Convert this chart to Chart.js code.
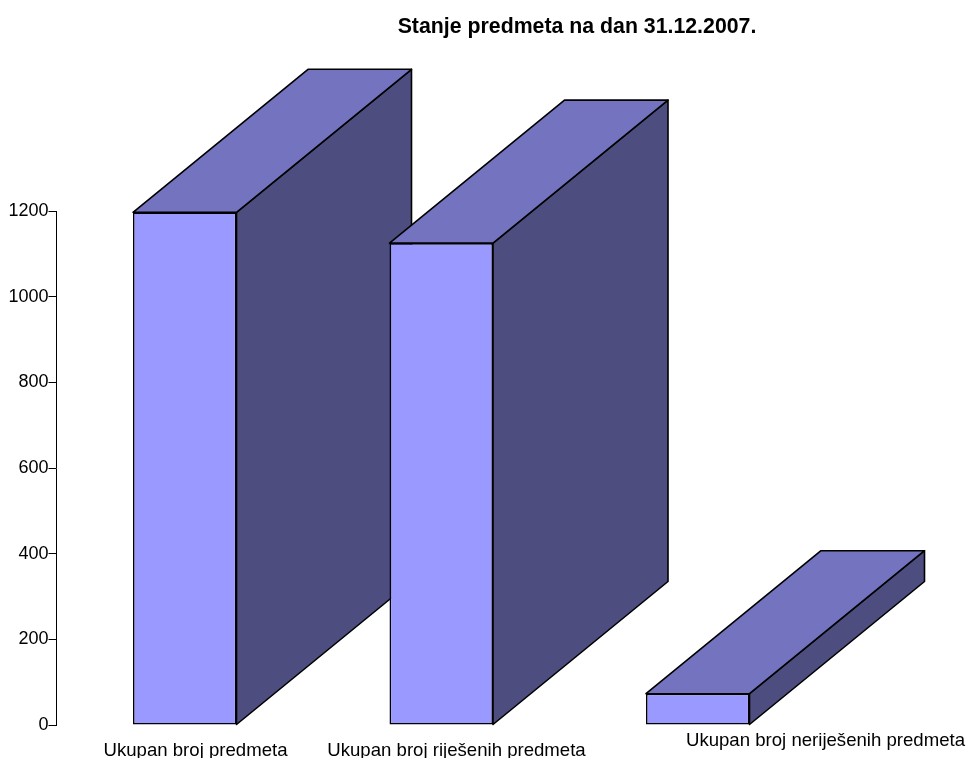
<!DOCTYPE html>
<html>
<head>
<meta charset="utf-8">
<title>Stanje predmeta</title>
<script src="https://cdn.jsdelivr.net/npm/chart.js@4/dist/chart.umd.js"></script>
<style>
  html, body { margin: 0; padding: 0; background: #fff; }
  canvas { display: block; }
</style>
</head>
<body>
<canvas id="chart" width="968" height="758"></canvas>
<script>
const titleText = 'Stanje predmeta na dan 31.12.2007.';
const categories = ['Ukupan broj predmeta', 'Ukupan broj riješenih predmeta', 'Ukupan broj neriješenih predmeta'];
const values = [1197, 1125, 73];
const yTicks = [0, 200, 400, 600, 800, 1000, 1200];

const FONT = '"Liberation Sans", Arial, sans-serif';
const frontColor = '#9999ff';
const topColor = '#7373bf';
const sideColor = '#4d4d80';
// 3d offset of the back face
const depthX = 175;
const depthY = -143;
// label anchors, the source chart places them by hand
const labelCenters = [195.5, 456.5, 825.5];
const labelBaselines = [756, 756, 746];

function face(ctx, pts, fill) {
    ctx.beginPath();
    ctx.moveTo(pts[0][0], pts[0][1]);
    for (let i = 1; i < pts.length; i++) ctx.lineTo(pts[i][0], pts[i][1]);
    ctx.closePath();
    ctx.fillStyle = fill;
    ctx.fill();
    ctx.stroke();
}

const box3d = {
    id: 'box3d',
    beforeDatasetsDraw(chart) {
        const ctx = chart.ctx;
        const bars = chart.getDatasetMeta(0).data;
        ctx.save();
        ctx.strokeStyle = '#000';
        ctx.lineWidth = 1.6;
        ctx.lineJoin = 'round';
        bars.forEach((bar) => {
            const left = bar.x - bar.width / 2;
            const right = bar.x + bar.width / 2;
            const top = bar.y;
            const bottom = bar.base;
            face(ctx, [[right, top], [right + depthX, top + depthY], [right + depthX, bottom + depthY], [right, bottom]], sideColor);
            face(ctx, [[left, top], [left + depthX, top + depthY], [right + depthX, top + depthY], [right, top]], topColor);
        });
        ctx.restore();
    },
    afterDraw(chart) {
        const ctx = chart.ctx;
        ctx.save();
        ctx.fillStyle = '#000';
        ctx.textAlign = 'center';
        ctx.textBaseline = 'alphabetic';
        ctx.font = '18.6px ' + FONT;
        categories.forEach((c, i) => ctx.fillText(c, labelCenters[i], labelBaselines[i]));
        ctx.font = 'bold 21.3px ' + FONT;
        ctx.fillText(titleText, 577, 33);
        ctx.restore();
    }
};

new Chart(document.getElementById('chart').getContext('2d'), {
    type: 'bar',
    data: {
        labels: categories,
        datasets: [{
            data: values,
            backgroundColor: frontColor,
            borderColor: '#000',
            borderWidth: 1.6,
            borderSkipped: false,
            barPercentage: 0.4035,
            categoryPercentage: 1
        }]
    },
    options: {
        responsive: false,
        animation: false,
        devicePixelRatio: 1,
        layout: { padding: { left: 0, top: 211, right: 142, bottom: 33 } },
        plugins: { legend: { display: false }, tooltip: { enabled: false } },
        scales: {
            x: { display: false },
            y: {
                min: 0,
                max: 1200,
                afterFit(scale) { scale.width = 56.5; },
                afterBuildTicks(scale) { scale.ticks = yTicks.map((v) => ({ value: v })); },
                border: { color: '#000', width: 1 },
                grid: { drawOnChartArea: false, drawTicks: true, tickLength: 8, color: '#000', lineWidth: 1 },
                ticks: {
                    color: '#000',
                    padding: 0,
                    font: { family: FONT, size: 18 },
                    callback: (v) => String(v)
                }
            }
        }
    },
    plugins: [box3d]
});
</script>
</body>
</html>
